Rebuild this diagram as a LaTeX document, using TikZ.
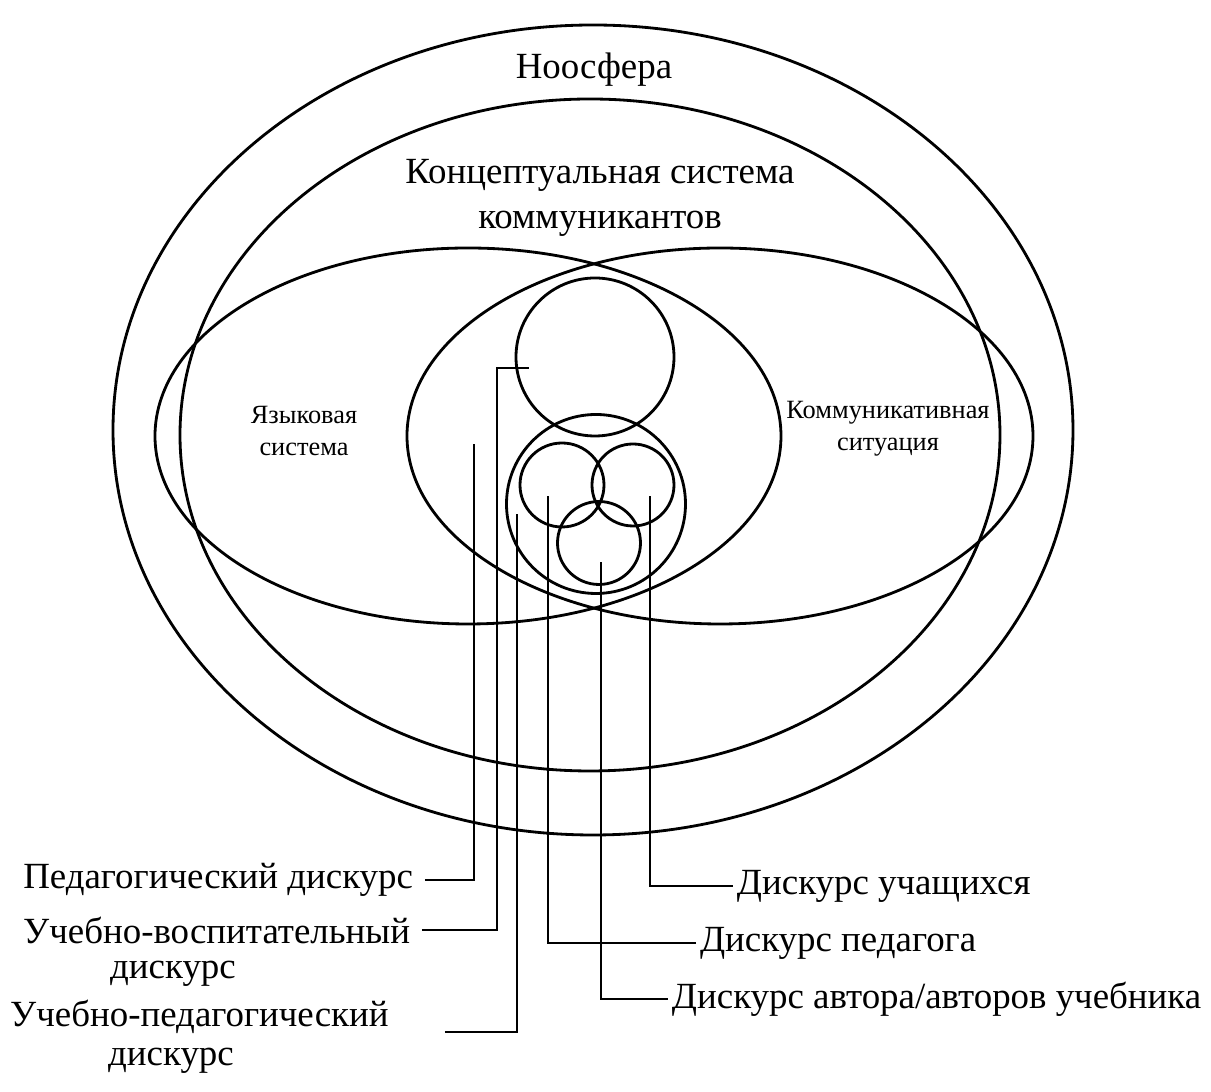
\documentclass[tikz,border=0pt]{standalone}
\usepackage{fontspec}
\setmainfont{Liberation Serif}
\usetikzlibrary{positioning}

\begin{document}
\begin{tikzpicture}[line width=0.8pt,
  big/.style={font=\fontsize{10.5}{13}\selectfont, inner sep=0pt, align=center},
  small/.style={font=\fontsize{7.5}{9}\selectfont, inner sep=0pt, align=center},
  lblL/.style={big, outer sep=1.2mm},
  lblR/.style={big, outer sep=0.4mm},
  lead/.style={line width=0.6pt}]
\useasboundingbox (0,0) rectangle (12.11,-10.92);

% Outer ellipses
\draw (5.93,-4.30) ellipse [x radius=4.80, y radius=4.05];
\draw (5.90,-4.35) ellipse [x radius=4.10, y radius=3.36];

% Language system and communicative situation
\draw (4.68,-4.36) ellipse [x radius=3.13, y radius=1.88];
\draw (7.20,-4.36) ellipse [x radius=3.13, y radius=1.88];

% Circles
\draw (5.95,-3.57) circle [radius=0.79];
\draw (5.96,-5.04) circle [radius=0.895];
\draw (5.62,-4.85) circle [radius=0.42];
\draw (6.33,-4.85) circle [radius=0.41];
\draw (5.99,-5.43) circle [radius=0.415];

% Titles
\node[big] (noo) at (5.94,-0.70) {Ноосфера};
\node[big] (konc) at (6.00,-1.98) {Концептуальная система\\ коммуникантов};
\node[small] (yaz) at (3.04,-4.31) {Языковая\\ система};
\node[small] (komm) at (8.88,-4.29) {Коммуникативная\\ ситуация};

% Leader ends
\coordinate (pedEnd) at (4.74,-4.44);
\coordinate (uvBend) at (4.97,-3.68);
\coordinate (uvEnd) at (5.29,-3.68);
\coordinate (upEnd) at (5.17,-5.14);
\coordinate (upStart) at (4.45,-10.32);
\coordinate (pgEnd) at (5.48,-4.96);
\coordinate (uchEnd) at (6.50,-4.96);
\coordinate (avEnd) at (6.01,-5.62);

% Left labels
\node[lblL, anchor=east] (ped) at (4.25,-8.80) {Педагогический дискурс};
\node[lblL, anchor=east] (uv) at (4.22,-9.30) {Учебно-воспитательный};
\node[big] (uv2) at (1.73,-9.74) {дискурс};
\node[big, anchor=east] (up) at (3.90,-10.17) {Учебно-педагогический};
\node[big] (up2) at (1.71,-10.61) {дискурс};

% Right labels
\node[lblR, anchor=west] (uch) at (7.33,-8.86) {Дискурс учащихся};
\node[lblR, anchor=west] (pg) at (6.96,-9.43) {Дискурс педагога};
\node[lblR, anchor=west] (av) at (6.68,-9.99) {Дискурс автора/авторов учебника};

% Connections
\draw[lead] (ped.east) -| (pedEnd);
\draw[lead] (uv.east) -| (uvBend) -- (uvEnd);
\draw[lead] (upStart) -| (upEnd);
\draw[lead] (uch.west) -| (uchEnd);
\draw[lead] (pg.west) -| (pgEnd);
\draw[lead] (av.west) -| (avEnd);
\end{tikzpicture}
\end{document}
